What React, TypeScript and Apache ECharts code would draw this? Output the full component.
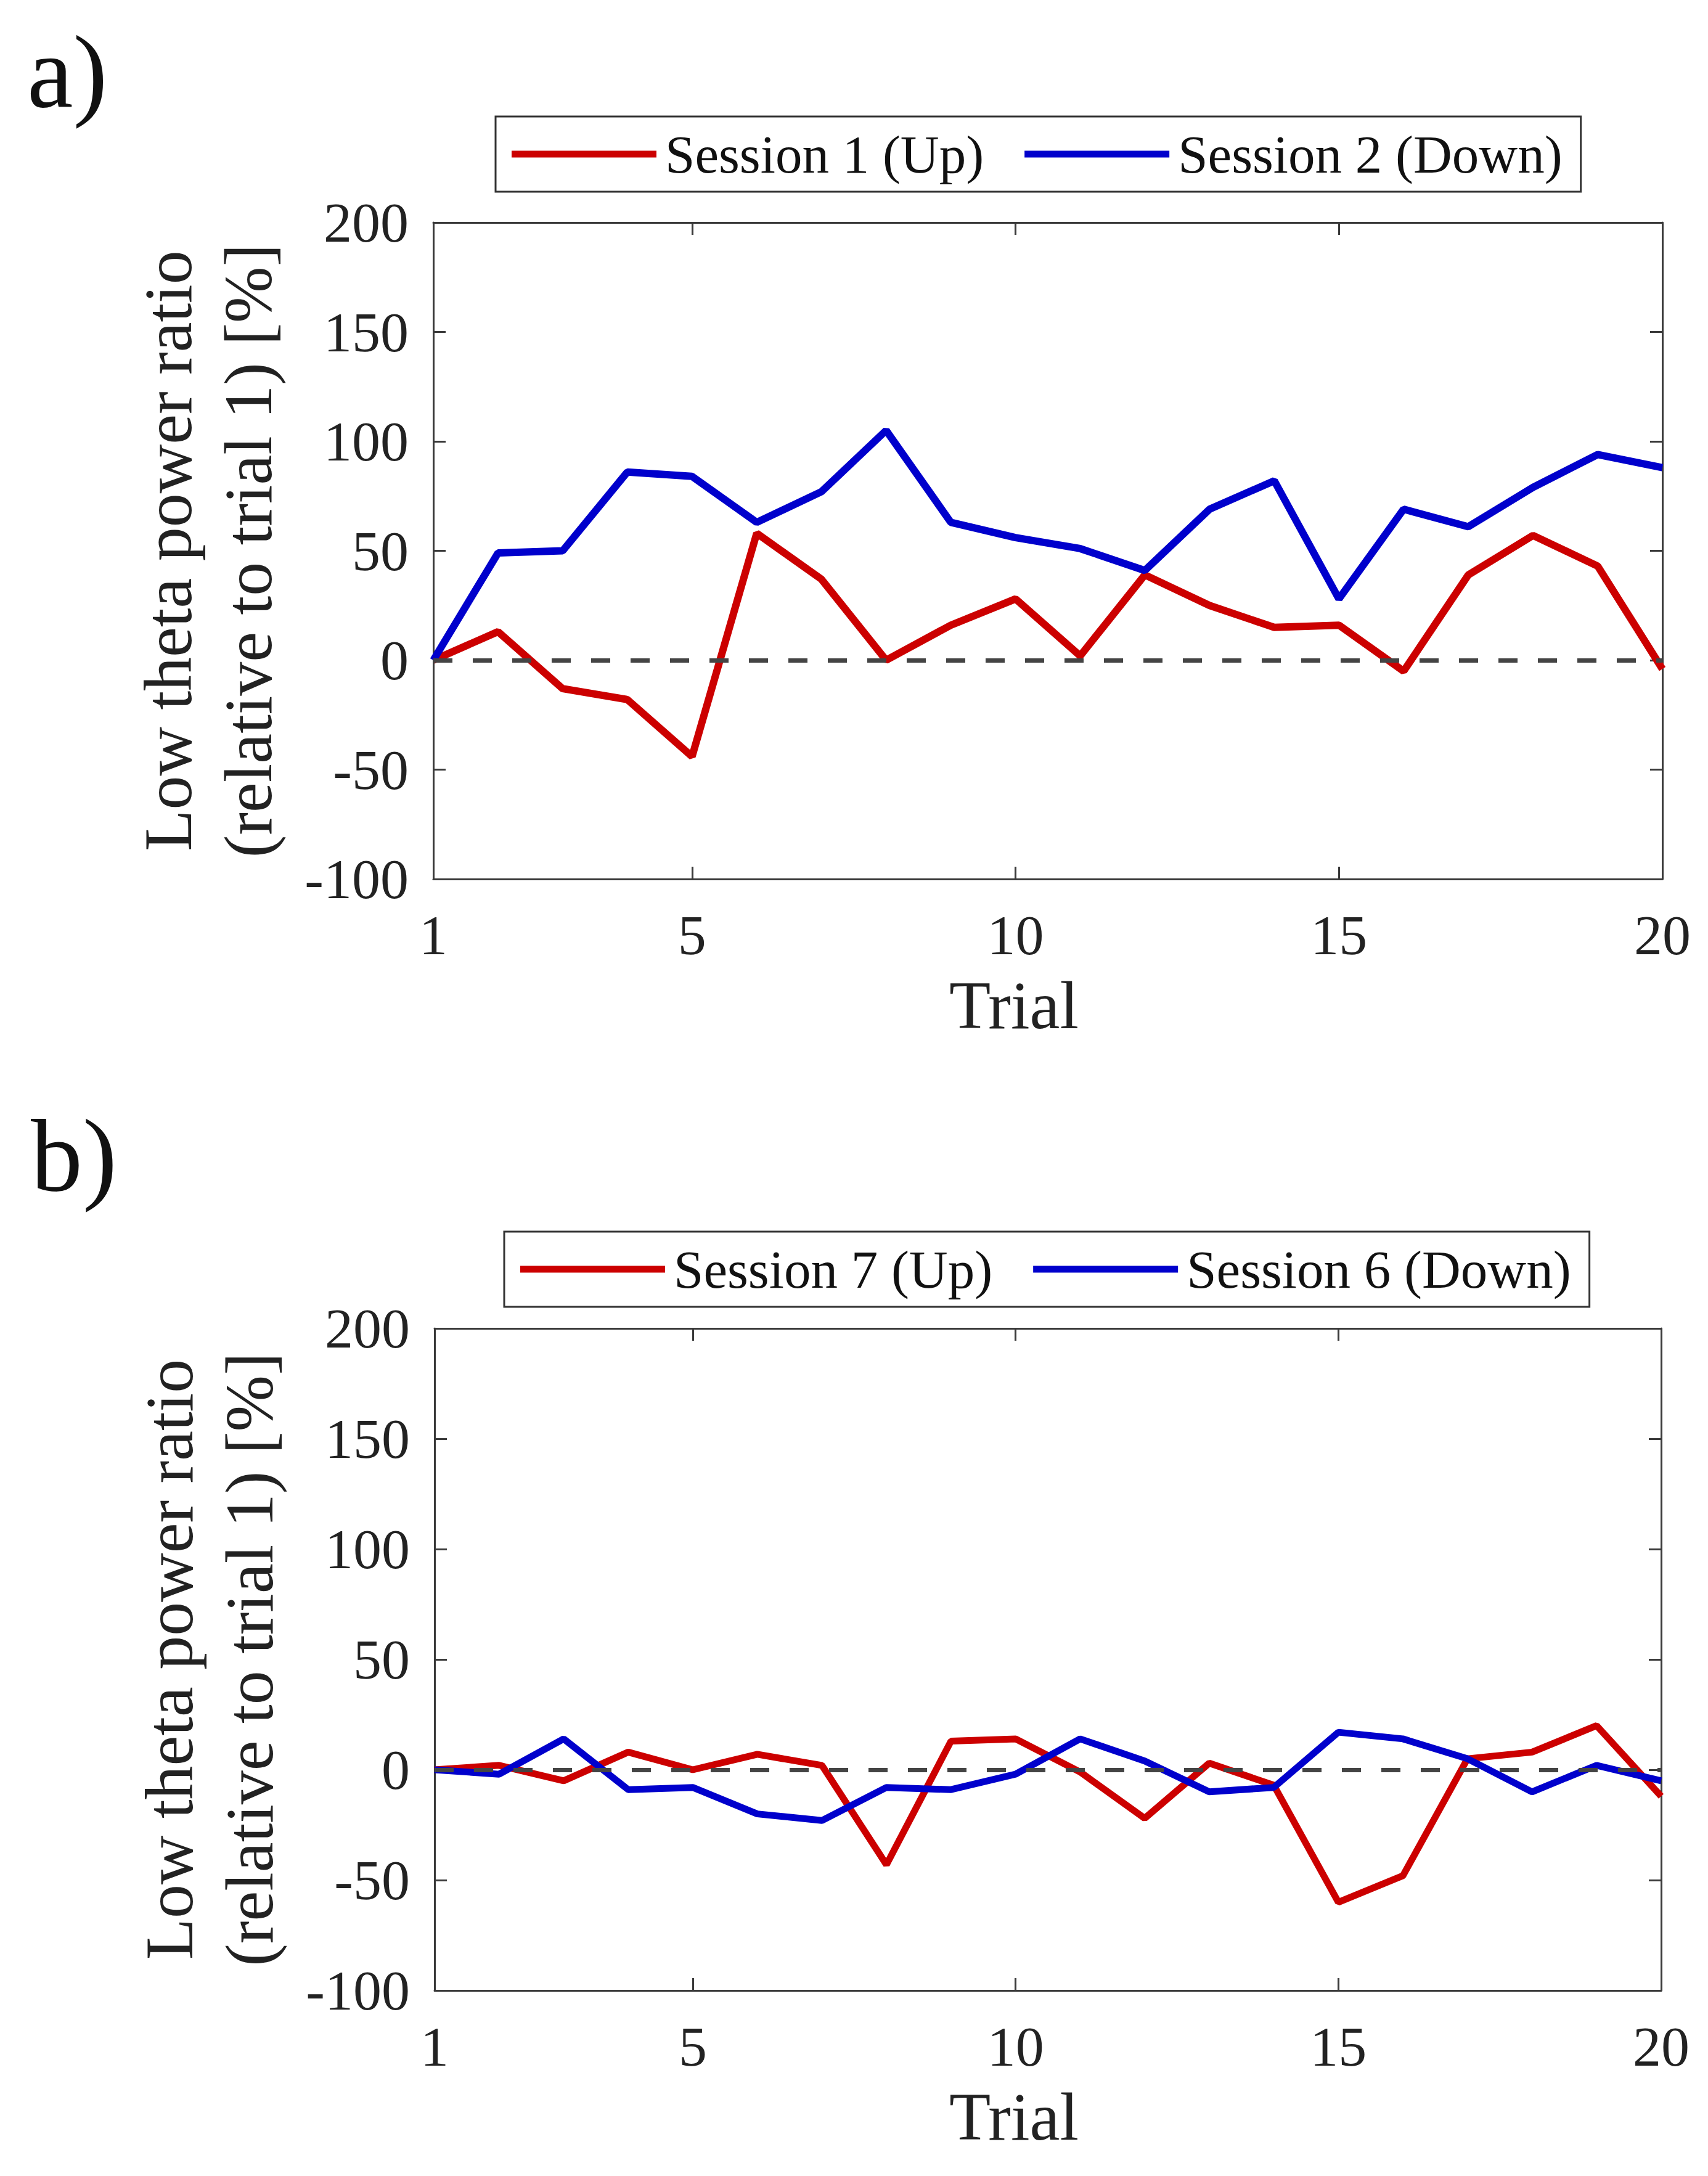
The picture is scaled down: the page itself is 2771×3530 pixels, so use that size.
import { useEffect, useRef } from 'react';
import * as echarts from 'echarts';

// trial numbers on the x axis
const trials = [1, 2, 3, 4, 5, 6, 7, 8, 9, 10, 11, 12, 13, 14, 15, 16, 17, 18, 19, 20];
const xTickValues = [1, 5, 10, 15, 20];

// panel a)
const session1Up = [0, 13, -13, -18, -44, 58, 37, 0, 16, 28, 2, 39, 25, 15, 16, -5, 39, 57, 43, -4];
const session2Down = [0, 49, 50, 86, 84, 63, 77, 105, 63, 56, 51, 41, 69, 82, 28, 69, 61, 79, 94, 88];

// panel b)
const session7Up = [0, 2, -5, 8, 0, 7, 2, -43, 13, 14, -1, -22, 3, -7, -60, -48, 5, 8, 20, -12];
const session6Down = [0, -2, 14, -9, -8, -20, -23, -8, -9, -2, 14, 4, -10, -8, 17, 14, 5, -10, 2, -5];

const FONT = "'Liberation Serif', 'Times New Roman', serif";
const AXIS_COLOR = '#3a3a3a';
const RED = '#cc0000';
const BLUE = '#0000cc';
const Y_NAME = 'Low theta power ratio\n(relative to trial 1) [%]';

const pairs = (vals: number[]) => vals.map((v, i) => [trials[i], v]);

const bottomX = (gridIndex: number) => ({
  type: 'value',
  gridIndex,
  min: 1,
  max: 20,
  name: 'Trial',
  nameLocation: 'middle',
  nameGap: 150,
  nameTextStyle: { fontFamily: FONT, fontSize: 110, color: '#222', padding: [0, 110, 0, 0] },
  axisLine: { show: true, onZero: false, lineStyle: { color: AXIS_COLOR, width: 3 } },
  axisTick: { show: true, inside: true, length: 20, customValues: xTickValues, lineStyle: { color: AXIS_COLOR, width: 3 } },
  axisLabel: { show: true, customValues: xTickValues, margin: 45, fontFamily: FONT, fontSize: 92, color: '#222' },
  splitLine: { show: false },
});

const topX = (gridIndex: number) => ({
  type: 'value',
  gridIndex,
  position: 'top',
  min: 1,
  max: 20,
  axisLine: { show: true, onZero: false, lineStyle: { color: AXIS_COLOR, width: 3 } },
  axisTick: { show: true, inside: true, length: 20, customValues: xTickValues, lineStyle: { color: AXIS_COLOR, width: 3 } },
  axisLabel: { show: false },
  splitLine: { show: false },
});

const leftY = (gridIndex: number) => ({
  type: 'value',
  gridIndex,
  min: -100,
  max: 200,
  interval: 50,
  name: Y_NAME,
  nameLocation: 'middle',
  nameRotate: 90,
  nameGap: 235,
  nameTextStyle: { fontFamily: FONT, fontSize: 110, lineHeight: 130, color: '#222' },
  axisLine: { show: true, onZero: false, lineStyle: { color: AXIS_COLOR, width: 3 } },
  axisTick: { show: true, inside: true, length: 20, lineStyle: { color: AXIS_COLOR, width: 3 } },
  axisLabel: { show: true, margin: 40, fontFamily: FONT, fontSize: 92, color: '#222' },
  splitLine: { show: false },
});

const rightY = (gridIndex: number) => ({
  type: 'value',
  gridIndex,
  position: 'right',
  min: -100,
  max: 200,
  interval: 50,
  axisLine: { show: true, onZero: false, lineStyle: { color: AXIS_COLOR, width: 3 } },
  axisTick: { show: true, inside: true, length: 20, lineStyle: { color: AXIS_COLOR, width: 3 } },
  axisLabel: { show: false },
  splitLine: { show: false },
});

const legendBox = (names: string[], left: number, top: number) => ({
  data: names,
  left,
  top,
  orient: 'horizontal',
  icon: 'rect',
  itemWidth: 235,
  itemHeight: 11,
  itemGap: 66,
  selectedMode: false,
  borderColor: '#333',
  borderWidth: 3,
  borderRadius: 0,
  padding: [16, 30, 16, 26],
  textStyle: { fontFamily: FONT, fontSize: 87, lineHeight: 90, color: '#111', padding: [0, 0, 0, 9] },
});

const zeroLine = {
  silent: true,
  symbol: 'none',
  label: { show: false },
  lineStyle: { color: '#444', type: [31, 33], width: 7 },
  data: [{ yAxis: 0 }],
};

const lineSeries = (name: string, vals: number[], color: string, axis: number, width: number, withZero: boolean) => ({
  name,
  type: 'line',
  xAxisIndex: axis,
  yAxisIndex: axis,
  data: pairs(vals),
  showSymbol: false,
  symbol: 'none',
  itemStyle: { color },
  lineStyle: { color, width },
  ...(withZero ? { markLine: zeroLine } : {}),
});

const App = () => {
  const chartRef = useRef<HTMLDivElement>(null);

  useEffect(() => {
    if (!chartRef.current) return;
    document.body.style.margin = '0';

    const chart = echarts.init(chartRef.current, null, { renderer: 'svg' });

    const option = {
      animation: false,
      backgroundColor: '#fff',
      grid: [
        { left: 703, top: 361, width: 1994, height: 1065 },
        { left: 705, top: 2155, width: 1990, height: 1074 },
      ],
      xAxis: [bottomX(0), topX(0), bottomX(1), topX(1)],
      yAxis: [leftY(0), rightY(0), leftY(1), rightY(1)],
      legend: [
        legendBox(['Session 1 (Up)', 'Session 2 (Down)'], 804, 189),
        legendBox(['Session 7 (Up)', 'Session 6 (Down)'], 818, 1998),
      ],
      graphic: [
        { type: 'text', left: 44, top: 32, style: { text: 'a)', font: `168px ${FONT}`, fill: '#111' } },
        { type: 'text', left: 50, top: 1790, style: { text: 'b)', font: `168px ${FONT}`, fill: '#111' } },
      ],
      series: [
        lineSeries('Session 1 (Up)', session1Up, RED, 0, 12, false),
        lineSeries('Session 2 (Down)', session2Down, BLUE, 0, 12, true),
        lineSeries('Session 7 (Up)', session7Up, RED, 2, 11, false),
        lineSeries('Session 6 (Down)', session6Down, BLUE, 2, 11, true),
      ],
    };

    chart.setOption(option);

    return () => {
      chart.dispose();
    };
  }, []);

  return <div ref={chartRef} style={{ width: '2771px', height: '3530px' }} />;
};

export default App;
